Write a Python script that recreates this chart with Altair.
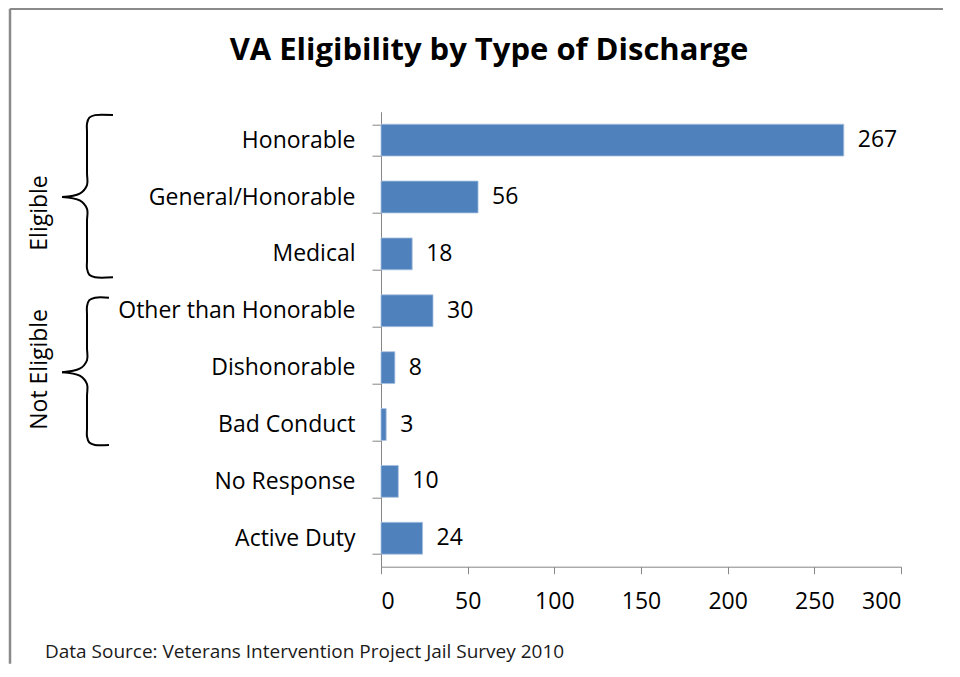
import altair as alt
import pandas as pd

# ---------------- data ----------------
categories = ["Honorable", "General/Honorable", "Medical", "Other than Honorable",
              "Dishonorable", "Bad Conduct", "No Response", "Active Duty"]
values = [267, 56, 18, 30, 8, 3, 10, 24]
x_ticks = [0, 50, 100, 150, 200, 250, 300]

group_names = ["Eligible", "Not Eligible"]
# brace extents in category-row units (0 = top edge of first row)
brace_top = [0.06, 3.27]
brace_bottom = [2.91, 5.86]
brace_tip = [1.50, 4.58]
group_label_pos = [1.78, 4.53]

title_text = "VA Eligibility by Type of Discharge"
source_text = "Data Source: Veterans Intervention Project Jail Survey 2010"

# ---------------- styling / layout ----------------
FONT = "Open Sans"
FS = 23
W, H = 520, 455
PAD = {"left": 373, "top": 103.7, "right": 45, "bottom": 97}
BAR = "#4f81bd"
AXIS_GRAY = "#868686"

bars_df = pd.DataFrame({"category": categories, "count": values})

y_enc = alt.Y(
    "category:N", sort=categories, title=None,
    scale=alt.Scale(paddingInner=0.44, paddingOuter=0.22),
    axis=alt.Axis(tickBand="extent", tickSize=9, tickColor=AXIS_GRAY,
                  domainColor=AXIS_GRAY, labelFont=FONT, labelFontSize=FS,
                  labelColor="#000000", labelPadding=17, labelLimit=400),
)
x_enc = alt.X(
    "count:Q", title=None,
    scale=alt.Scale(domain=[0, 300], nice=False),
    axis=alt.Axis(values=x_ticks, grid=False, tickSize=7, tickColor=AXIS_GRAY,
                  domainColor=AXIS_GRAY, labelFont=FONT, labelFontSize=FS,
                  labelColor="#000000", labelPadding=17),
)

bars = alt.Chart(bars_df).mark_bar(
    color=BAR, stroke="#a9c1e0", strokeWidth=0.8
).encode(x=x_enc, y=y_enc)

value_labels = alt.Chart(bars_df).mark_text(
    align="left", baseline="middle", dx=14, font=FONT, fontSize=FS, color="#000000"
).encode(x=alt.X("count:Q"), y=alt.Y("category:N", sort=categories), text="count:Q")

main = alt.layer(bars, value_labels)

# ---------------- braces (annotation) ----------------
VERT = -294     # px offset of brace spine from plot's left edge
HOOKS = [-268, -272]
TIPX = -319
RCX, RCY = 8, 0.15      # corner radius (px, rows)
RT = 0.21               # tip curve height (rows)

rows = []
for g, name in enumerate(group_names):
    t, b, m, hook = brace_top[g], brace_bottom[g], brace_tip[g], HOOKS[g]
    upper = [(hook, t), (VERT + RCX, t), (VERT + 2.3, t + 0.29 * RCY),
             (VERT, t + RCY), (VERT, t + 2 * RCY), (VERT, m - 2 * RT), (VERT, m - RT),
             (VERT - 7.3, m - 0.29 * RT), (TIPX, m)]
    lower = [(TIPX, m), (VERT - 7.3, m + 0.29 * RT), (VERT, m + RT), (VERT, m + 2 * RT),
             (VERT, b - 2 * RCY), (VERT, b - RCY), (VERT + 2.3, b - 0.29 * RCY),
             (VERT + RCX, b), (hook, b)]
    for half, pts in (("u", upper), ("l", lower)):
        for i, (px, py) in enumerate(pts):
            rows.append({"seg": f"{name}-{half}", "i": i, "px": px, "row": py})
brace_df = pd.DataFrame(rows)

bx = alt.X("px:Q", scale=alt.Scale(domain=[0, W], nice=False, zero=False), axis=None)
by = alt.Y("row:Q", scale=alt.Scale(domain=[0, 8], nice=False, zero=False, reverse=True), axis=None)

braces = alt.Chart(brace_df).mark_line(
    color="#000000", strokeWidth=2, interpolate="catmull-rom", clip=False
).encode(x=bx, y=by, detail="seg:N", order="i:Q")

glabel_df = pd.DataFrame({"name": group_names, "px": [-341, -341], "row": group_label_pos})
group_labels = alt.Chart(glabel_df).mark_text(
    angle=270, align="center", baseline="middle", font=FONT, fontSize=FS, color="#000000"
).encode(x=bx, y=by, text="name:N")

brace_layer = alt.layer(braces, group_labels)

# ---------------- title, source, frame ----------------
title = alt.Chart(pd.DataFrame({"t": [title_text]})).mark_text(
    font=FONT, fontSize=31, fontWeight="bold", align="center", baseline="middle", color="#000000"
).encode(x=alt.value(108), y=alt.value(-61), text="t:N")

source = alt.Chart(pd.DataFrame({"t": [source_text]})).mark_text(
    font=FONT, fontSize=19, align="left", baseline="middle", color="#1a1a1a"
).encode(x=alt.value(-336), y=alt.value(540), text="t:N")

frame_top = alt.Chart(pd.DataFrame({"a": [0]})).mark_rule(
    color="#8a8a8a", strokeWidth=2.5
).encode(x=alt.value(-371), x2=alt.value(W + 42), y=alt.value(-103))
frame_left = alt.Chart(pd.DataFrame({"a": [0]})).mark_rule(
    color="#8a8a8a", strokeWidth=2.5
).encode(x=alt.value(-371), y=alt.value(-103), y2=alt.value(H + 97))

chart = alt.layer(main, brace_layer, title, source, frame_top, frame_left).resolve_scale(
    x="independent", y="independent"
).properties(
    width=W, height=H,
    autosize=alt.AutoSizeParams(type="none"),
    padding=PAD,
    background="white",
).configure_view(stroke=None)

chart.save("out.html", embed_options={"renderer": "svg", "actions": False})
